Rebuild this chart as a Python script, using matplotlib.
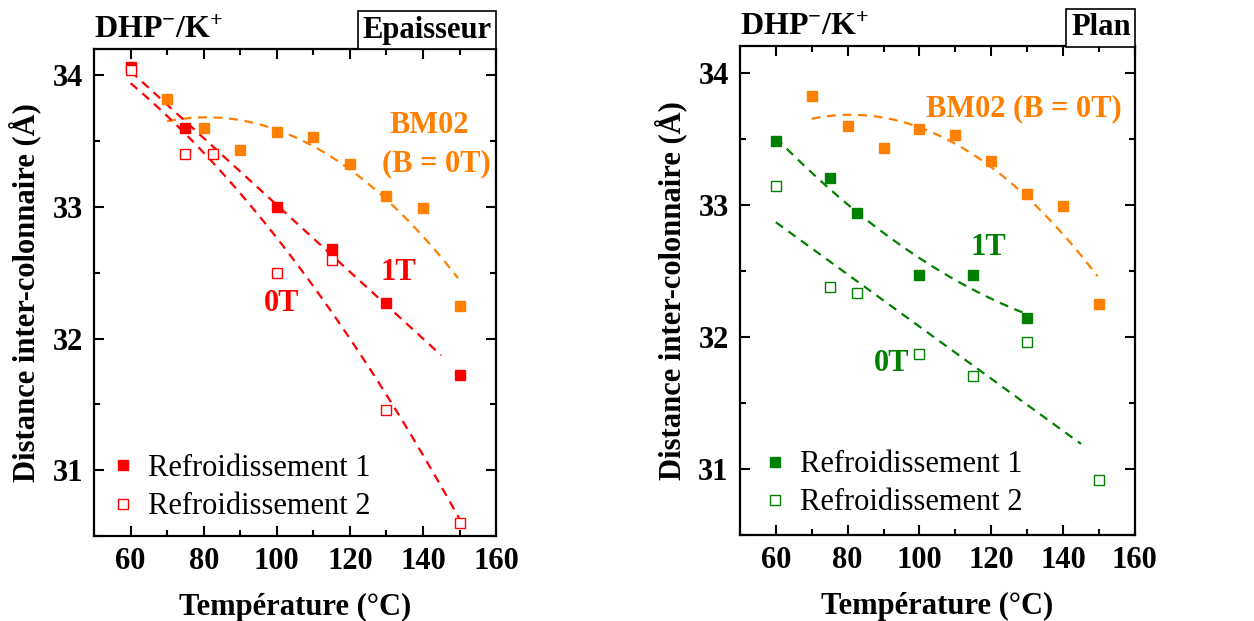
import numpy as np
import matplotlib
matplotlib.use('Agg')
import matplotlib.pyplot as plt
from matplotlib.ticker import MultipleLocator

plt.rcParams['font.family'] = 'Liberation Serif'
plt.rcParams['mathtext.fontset'] = 'custom'
plt.rcParams['mathtext.rm'] = 'Liberation Serif:bold'
plt.rcParams['mathtext.it'] = 'Liberation Serif:bold'
plt.rcParams['mathtext.bf'] = 'Liberation Serif:bold'

# BM02 reference (B = 0T), same in both panels
T_bm = [70, 80, 90, 100, 110, 120, 130, 140, 150]
d_bm = [33.82, 33.60, 33.43, 33.57, 33.53, 33.33, 33.08, 32.99, 32.25]

# Epaisseur (red)
T_ep1 = [60, 75, 100, 115, 130, 150]
d_ep1 = [34.06, 33.60, 33.00, 32.68, 32.27, 31.72]
T_ep2 = [60, 75, 82.5, 100, 115, 130, 150]
d_ep2 = [34.04, 33.40, 33.40, 32.50, 32.60, 31.46, 30.60]

# Plan (green)
T_pl1 = [60, 75, 82.5, 100, 115, 130]
d_pl1 = [33.48, 33.20, 32.94, 32.47, 32.47, 32.14]
T_pl2 = [60, 75, 82.5, 100, 115, 130, 150]
d_pl2 = [33.14, 32.38, 32.33, 31.87, 31.70, 31.96, 30.92]

RED = '#ff0000'
ORANGE = '#ff8000'
GREEN = '#008000'
FS = 22


def fit_line(ax, T, d, deg, t0, t1, color):
    # polynomial fit drawn as dashed line
    p = np.polyfit(T, d, deg)
    t = np.linspace(t0, t1, 100)
    ax.plot(t, np.polyval(p, t), ls=(0, (4, 3)), lw=1.6, color=color)


def style(ax, title, box):
    ax.set_xlim(50, 160)
    ax.set_ylim(30.5, 34.2)
    ax.xaxis.set_major_locator(MultipleLocator(20))
    ax.xaxis.set_minor_locator(MultipleLocator(10))
    ax.yaxis.set_major_locator(MultipleLocator(1))
    ax.yaxis.set_minor_locator(MultipleLocator(0.5))
    ax.tick_params(which='both', direction='in', top=True, right=True, width=1.5)
    ax.tick_params(which='major', length=7, labelsize=FS, pad=8)
    ax.tick_params(which='minor', length=4)
    for lab in ax.get_xticklabels() + ax.get_yticklabels():
        lab.set_fontweight('bold')
    for s in ax.spines.values():
        s.set_linewidth(1.6)
    ax.set_xlabel('Température (°C)', fontsize=FS, fontweight='bold', labelpad=12)
    ax.set_ylabel('Distance inter-colonnaire (Å)', fontsize=FS, fontweight='bold', labelpad=8)
    ax.text(0, 1.008, title, transform=ax.transAxes, fontsize=FS + 1,
            fontweight='bold', ha='left', va='bottom')
    ax.annotate(box, xy=(1, 1), xycoords='axes fraction', xytext=(-3, 3),
                textcoords='offset points', ha='right', va='bottom',
                fontsize=FS, fontweight='bold',
                bbox=dict(boxstyle='square,pad=0.15', fc='white', ec='black', lw=1.2))


fig = plt.figure(figsize=(12.54, 6.21), dpi=100)
ax1 = fig.add_axes([0.075, 0.137, 0.3206, 0.784])
ax2 = fig.add_axes([0.590, 0.1385, 0.315, 0.787])

# left panel
fit_line(ax1, T_bm, d_bm, 2, 70, 149.6, ORANGE)
fit_line(ax1, T_ep1, d_ep1, 1, 60, 145, RED)
fit_line(ax1, T_ep2, d_ep2, 2, 60, 150, RED)
ax1.plot(T_bm, d_bm, 's', ms=7.5, color=ORANGE, ls='none')
ax1.plot(T_ep1, d_ep1, 's', ms=7.5, color=RED, ls='none', label='Refroidissement 1')
ax1.plot(T_ep2, d_ep2, 's', ms=7.5, mfc='white', mec=RED, mew=1.0, ls='none',
         label='Refroidissement 2')
ax1.text(141.6, 33.62, 'BM02', color=ORANGE, fontsize=FS, fontweight='bold', ha='center', va='center')
ax1.text(143.8, 33.33, '(B = 0T)', color=ORANGE, fontsize=FS, fontweight='bold', ha='center', va='center')
ax1.text(133.4, 32.5, '1T', color=RED, fontsize=FS, fontweight='bold', ha='center', va='center')
ax1.text(101.4, 32.27, '0T', color=RED, fontsize=FS, fontweight='bold', ha='center', va='center')
style(ax1, r'DHP$^{-}$/K$^{+}$', 'Epaisseur')
ax1.legend(loc='lower left', frameon=False, fontsize=FS, handlelength=0.6,
           handletextpad=0.5, labelspacing=0.3, borderaxespad=0.0,
           bbox_to_anchor=(0.02, 0.005))

# right panel
fit_line(ax2, T_bm, d_bm, 2, 70, 149.6, ORANGE)
fit_line(ax2, T_pl1, d_pl1, 2, 60, 130, GREEN)
fit_line(ax2, T_pl2, d_pl2, 1, 60, 145, GREEN)
ax2.plot(T_bm, d_bm, 's', ms=7.5, color=ORANGE, ls='none')
ax2.plot(T_pl1, d_pl1, 's', ms=7.5, color=GREEN, ls='none', label='Refroidissement 1')
ax2.plot(T_pl2, d_pl2, 's', ms=7.5, mfc='white', mec=GREEN, mew=1.0, ls='none',
         label='Refroidissement 2')
ax2.text(129, 33.73, 'BM02 (B = 0T)', color=ORANGE, fontsize=FS, fontweight='bold', ha='center', va='center')
ax2.text(119.2, 32.68, '1T', color=GREEN, fontsize=FS, fontweight='bold', ha='center', va='center')
ax2.text(92.4, 31.80, '0T', color=GREEN, fontsize=FS, fontweight='bold', ha='center', va='center')
style(ax2, r'DHP$^{-}$/K$^{+}$', 'Plan')
ax2.legend(loc='lower left', frameon=False, fontsize=FS, handlelength=0.6,
           handletextpad=0.5, labelspacing=0.3, borderaxespad=0.0,
           bbox_to_anchor=(0.035, 0.011))

fig.savefig('out.png', dpi=100)
